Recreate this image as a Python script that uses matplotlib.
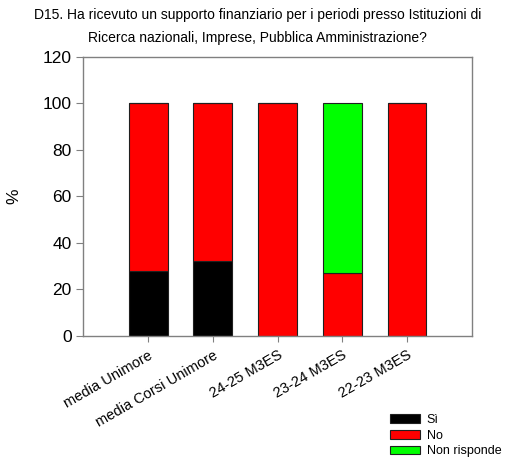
import matplotlib
matplotlib.use("Agg")
import matplotlib.pyplot as plt
import numpy as np
from matplotlib.patches import Patch

plt.rcParams['font.family'] = ['Liberation Sans', 'DejaVu Sans']

categories = ["media Unimore", "media Corsi Unimore", "24-25 M3ES", "23-24 M3ES", "22-23 M3ES"]
si = [28, 32, 0, 0, 0]
no = [72, 68, 100, 27, 100]
non_risponde = [0, 0, 0, 73, 0]
series_labels = ["Sì", "No", "Non risponde"]
colors = ["#000000", "#ff0000", "#00ff00"]

fig = plt.figure(figsize=(5.15, 4.63), dpi=100)
ax = fig.add_axes([0.162, 0.275, 0.754, 0.6025])

x = np.arange(len(categories))
w = 0.6
bottom = np.zeros(len(categories))
for vals, c in zip([si, no, non_risponde], colors):
    vals = np.array(vals, dtype=float)
    ax.bar(x, vals, w, bottom=bottom, color=c, edgecolor="#202020", linewidth=0.8)
    bottom += vals

ax.set_xlim(-1, 5)
ax.set_ylim(0, 120)
ax.set_yticks(range(0, 121, 20))
ax.tick_params(axis='y', labelsize=12.5, direction='out', length=5, color='#808080')
ax.tick_params(axis='x', direction='out', length=4, color='#808080', pad=5)
ax.set_xticks(x)
ax.set_xticklabels(categories, rotation=30, ha='right', rotation_mode='anchor', fontsize=10.5)
for s in ax.spines.values():
    s.set_color('#808080')
    s.set_linewidth(1)

ax.set_ylabel("%", fontsize=12.5)
ax.yaxis.set_label_coords(-0.16, 0.5)
fig.text(0.5, 0.983, "D15. Ha ricevuto un supporto finanziario per i periodi presso Istituzioni di\nRicerca nazionali, Imprese, Pubblica Amministrazione?",
         ha='center', va='top', fontsize=10, linespacing=1.85)

handles = [Patch(facecolor=c, edgecolor='#202020', linewidth=0.8) for c in colors]
fig.legend(handles, series_labels, loc='upper left', bbox_to_anchor=(0.757, 0.106), frameon=False,
           borderpad=0, borderaxespad=0,
           fontsize=9, handlelength=2.4, handleheight=0.7, handletextpad=0.55, labelspacing=0.3)

fig.savefig("out.png", dpi=100)
